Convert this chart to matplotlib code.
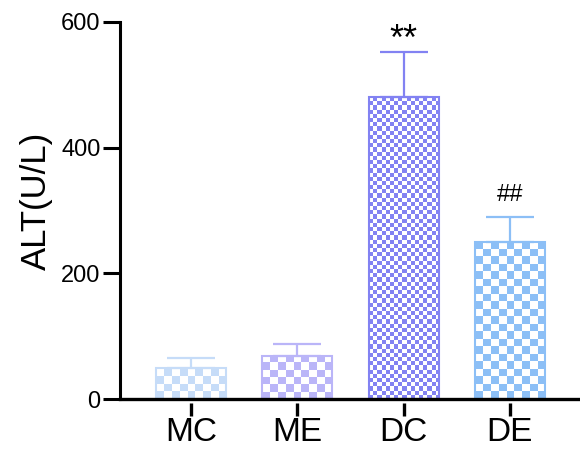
import matplotlib
matplotlib.use("Agg")
import matplotlib.pyplot as plt
import numpy as np
from matplotlib.colors import to_rgba

groups = ["MC", "ME", "DC", "DE"]
means = [49, 69, 480, 250]
sds = [17, 18, 73, 39]
colors = ["#c6dcf8", "#bab5f8", "#8282f2", "#8cbff6"]
square_px = [7.5, 7.5, 4.2, 7.5]   # checker size per bar
marks = {"DC": "**", "DE": "##"}
mark_size = {"DC": 26, "DE": 17}
mark_gap = {"DC": 2, "DE": 26}   # baseline offset above error bar

plt.rcParams['font.family'] = ['Liberation Sans', 'DejaVu Sans']

fig = plt.figure(figsize=(5.8, 4.57), dpi=100)
ax = fig.add_axes([120/580, 58/457, 460/580, 377/457])

x = np.arange(len(groups))
width = 0.66
bars = ax.bar(x, means, width=width, color="none", edgecolor=colors, linewidth=1.5, zorder=3)

ax.set_xlim(-0.67, 3.66)
ax.set_ylim(0, 600)

#checkerboard fill for each bar, clipped to the bar
for i, b in enumerate(bars):
    x0, y0 = b.get_x(), b.get_y()
    w, h = b.get_width(), b.get_height()
    p0 = ax.transData.transform((x0, y0))
    p1 = ax.transData.transform((x0 + w, y0 + h))
    nx = max(1, int(round((p1[0] - p0[0]) / square_px[i])))
    ny = max(1, int(round((p1[1] - p0[1]) / square_px[i])))
    ii, jj = np.meshgrid(np.arange(nx), np.arange(ny))
    mask = (ii + jj) % 2 == 0
    img = np.ones((ny, nx, 4))
    img[mask] = to_rgba(colors[i])
    im = ax.imshow(img, extent=(x0, x0 + w, y0, y0 + h), origin="lower",
                   interpolation="nearest", aspect="auto", zorder=2)
    im.set_clip_path(b)

#upper error bars only
for i in range(len(groups)):
    ax.errorbar(x[i], means[i], yerr=[[0], [sds[i]]], fmt="none", ecolor=colors[i],
                elinewidth=1.6, capsize=17, capthick=1.6, zorder=4)

for i, g in enumerate(groups):
    if g in marks:
        ax.text(x[i], means[i] + sds[i] + mark_gap[g], marks[g], ha="center", va="baseline",
                fontsize=mark_size[g], color="black")

ax.set_xlim(-0.67, 3.66)
ax.set_ylim(0, 600)

#x ticks sit a little below the axis line
ax.spines["top"].set_visible(False)
ax.spines["right"].set_visible(False)
ax.spines["left"].set_linewidth(2.2)
ax.spines["bottom"].set_position(("outward", 3))
ax.spines["bottom"].set_color("none")
ax.axhline(0, color="black", lw=2.4, clip_on=False, zorder=5)

ax.set_xticks(x)
ax.set_xticklabels(groups, fontsize=24)
ax.set_yticks([0, 200, 400, 600])
ax.tick_params(axis="y", labelsize=17, width=2.2, length=12, pad=2)
ax.tick_params(axis="x", width=2.4, length=9, pad=1, color="black")
ax.set_ylabel("ALT(U/L)", fontsize=25)
ax.yaxis.set_label_coords(-0.145, 0.525)

fig.savefig("out.png", dpi=100)
